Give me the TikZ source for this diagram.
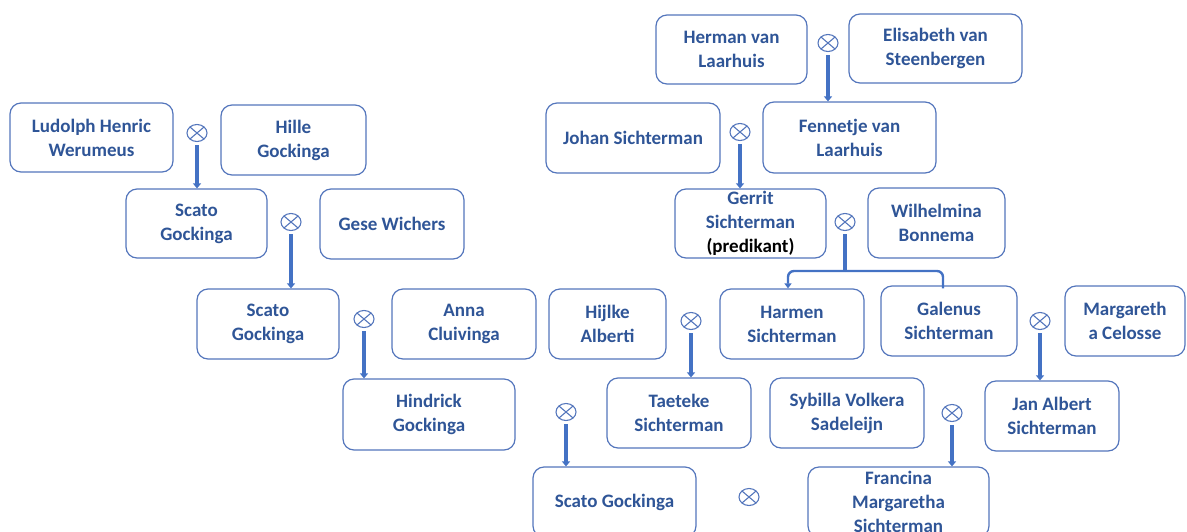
\documentclass[tikz,border=0pt]{standalone}
\usepackage{fontspec}
\setmainfont{Carlito}
\usetikzlibrary{arrows.meta,shapes.geometric,calc}
\definecolor{bordercol}{RGB}{84,118,188}
\definecolor{linecol}{RGB}{68,114,196}
\definecolor{txtcol}{RGB}{47,85,151}
\tikzset{
  person/.style={draw=bordercol, line width=1.2pt, rounded corners=11pt, fill=white,
    align=center, inner sep=0pt, text=txtcol,
    font=\fontsize{19}{24}\selectfont\bfseries},
  marr/.style={ellipse, draw=bordercol, line width=1.1pt, minimum width=20pt, minimum height=17pt,
    inner sep=0pt,
    path picture={\draw[bordercol, line width=1.1pt]
      (path picture bounding box.north west) -- (path picture bounding box.south east)
      (path picture bounding box.north east) -- (path picture bounding box.south west);}},
  descent/.style={draw=linecol, line width=3.2pt, shorten <=3pt,
    -{Triangle[length=5pt,width=8pt]}},
  trunk/.style={draw=linecol, line width=3.2pt, shorten <=3pt},
  branch/.style={draw=linecol, line width=2.4pt, rounded corners=6pt},
  brancharrow/.style={branch, -{Triangle[length=5pt,width=7pt]}}
}
\begin{document}
\begin{tikzpicture}[x=1pt,y=-1pt]
\useasboundingbox (0,0) rectangle (1187,531);
\clip (0,0) rectangle (1187,531);
% persons
\node[person, minimum width=163pt, minimum height=69pt] (lud) at (91.5,137.5) {Ludolph Henric\\Werumeus};
\node[person, minimum width=145pt, minimum height=70pt] (hil) at (293.5,140) {Hille\\Gockinga};
\node[person, minimum width=141pt, minimum height=69pt] (sc1) at (196.5,223.5) {Scato\\Gockinga};
\node[person, minimum width=144pt, minimum height=70pt] (ges) at (392,224) {Gese Wichers};
\node[person, minimum width=142pt, minimum height=70pt] (sc2) at (268,324) {Scato\\Gockinga};
\node[person, minimum width=144pt, minimum height=70pt] (ann) at (464,324) {Anna\\Cluivinga};
\node[person, minimum width=172pt, minimum height=71pt] (hin) at (429,414.5) {Hindrick\\Gockinga};
\node[person, minimum width=163pt, minimum height=70pt] (sc3) at (614.5,502) {Scato Gockinga};
\node[person, minimum width=151pt, minimum height=69pt] (her) at (731.5,49.5) {Herman van\\Laarhuis};
\node[person, minimum width=173pt, minimum height=69pt] (eli) at (935.5,48.5) {Elisabeth van\\Steenbergen};
\node[person, minimum width=174pt, minimum height=70pt] (joh) at (633,138) {Johan Sichterman};
\node[person, minimum width=173pt, minimum height=71pt] (fen) at (849.5,137.5) {Fennetje van\\Laarhuis};
\node[person, minimum width=151pt, minimum height=69pt] (ger) at (750.5,223.5) {Gerrit\\Sichterman\\\textcolor{black}{(predikant)}};
\node[person, minimum width=137pt, minimum height=70pt] (wil) at (936.5,223) {Wilhelmina\\Bonnema};
\node[person, minimum width=117pt, minimum height=70pt] (hij) at (607.5,324) {Hijlke\\Alberti};
\node[person, minimum width=144pt, minimum height=70pt] (har) at (792,324) {Harmen\\Sichterman};
\node[person, minimum width=136pt, minimum height=70pt] (gal) at (949,321) {Galenus\\Sichterman};
\node[person, minimum width=120pt, minimum height=70pt] (mar) at (1125,321) {Margareth\\a Celosse};
\node[person, minimum width=144pt, minimum height=70pt] (tae) at (679,413) {Taeteke\\Sichterman};
\node[person, minimum width=154pt, minimum height=70pt] (syb) at (847,413) {Sybilla Volkera\\Sadeleijn};
\node[person, minimum width=134pt, minimum height=70pt] (jan) at (1052,416) {Jan Albert\\Sichterman};
\node[person, minimum width=181pt, minimum height=70pt] (fra) at (898.5,502) {Francina\\Margaretha\\Sichterman};
% marriages
\node[marr] (m1) at (197,133) {};
\node[marr] (m2) at (291,222) {};
\node[marr] (m3) at (364,319) {};
\node[marr] (m4) at (828,43) {};
\node[marr] (m5) at (740,132) {};
\node[marr] (m6) at (845,222) {};
\node[marr] (m7) at (691,321) {};
\node[marr] (m8) at (1040,321) {};
\node[marr] (m9) at (566,412) {};
\node[marr] (m10) at (952,413) {};
\node[marr] (m11) at (749,497) {};
% descent lines
\draw[descent] (m1.south) -- (m1.south |- sc1.north);
\draw[descent] (m2.south) -- (m2.south |- sc2.north);
\draw[descent] (m3.south) -- (m3.south |- hin.north);
\draw[descent] (m4.south) -- (m4.south |- fen.north);
\draw[descent] (m5.south) -- (m5.south |- ger.north);
\draw[descent] (m7.south) -- (m7.south |- tae.north);
\draw[descent] (m8.south) -- (m8.south |- jan.north);
\draw[descent] (m9.south) -- (m9.south |- sc3.north);
\draw[descent] (m10.south) -- (m10.south |- fra.north);
% branching to two children
\coordinate (br) at (845,271);
\draw[trunk] (m6.south) -- (br);
\draw[brancharrow] (br) -| ([xshift=-4pt]har.north);
\draw[branch] (br) -| ([xshift=-6pt,yshift=-3pt]gal.north);
\end{tikzpicture}
\end{document}
